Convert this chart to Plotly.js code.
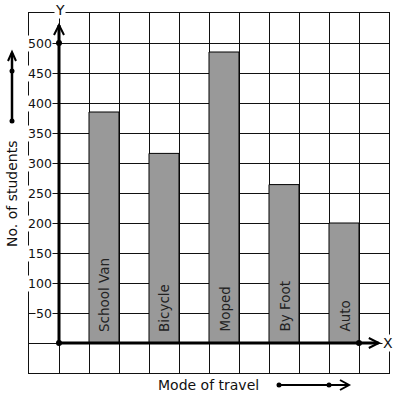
<!DOCTYPE html>
<html>
<head>
<meta charset="utf-8">
<script src="https://cdn.plot.ly/plotly-3.0.1.min.js"></script>
<style>html,body{margin:0;padding:0;background:#fff;}#chart{width:397px;height:399px;}</style>
</head>
<body>
<div id="chart"></div>
<script>
// Data
const categories = ["School Van", "Bicycle", "Moped", "By Foot", "Auto"];
const students = [385, 316, 485, 264, 200];
const yTickValues = [50, 100, 150, 200, 250, 300, 350, 400, 450, 500];
const yTickLabels = ["50", "100", "150", "200", "250", "300", "350", "400", "450", "500"];
const xAxisTitle = "Mode of travel";
const yAxisTitle = "No. of students";

// Layout geometry
const L = 29, T = 13, W = 360, H = 360;
const FONT = "DejaVu Sans, sans-serif";
const px = x => (x - L) / W;          // pixel -> paper x
const py = y => (T + H - y) / H;      // pixel -> paper y
const DX = 1 / 30, DY = 50 / 30;      // data units per pixel

const xPos = categories.map((c, i) => 1.5 + 2 * i);

const bars = {
  type: "bar",
  x: xPos,
  y: students,
  width: 1,
  marker: { color: "#999999", line: { color: "#000", width: 1 } },
  hoverinfo: "skip"
};

const dots = {
  type: "scatter",
  mode: "markers",
  x: [0, 0, 10],
  y: [0, 500, 0],
  marker: { color: "#000", size: 6 },
  cliponaxis: false,
  hoverinfo: "skip"
};

const annotations = [];
yTickValues.forEach((v, i) => {
  annotations.push({
    x: -0.2, y: v, xref: "x", yref: "y", text: yTickLabels[i],
    showarrow: false, xanchor: "right", yanchor: "middle",
    bgcolor: "#fff", borderpad: 0,
    font: { family: FONT, size: 12.5, color: "#111" }
  });
});
categories.forEach((c, i) => {
  annotations.push({
    x: xPos[i], y: 0, xref: "x", yref: "y", text: c,
    showarrow: false, textangle: -90, xanchor: "center", yanchor: "bottom",
    yshift: 9,
    font: { family: FONT, size: 13.5, color: "#222" }
  });
});
annotations.push({
  x: px(60), y: py(10), xref: "paper", yref: "paper", text: "Y", showarrow: false,
  xanchor: "center", yanchor: "middle", bgcolor: "#fff", borderpad: 0,
  font: { family: FONT, size: 14, color: "#111" }
});
annotations.push({
  x: 10.97, y: 0, xref: "x", yref: "y", text: "X", showarrow: false,
  xanchor: "center", yanchor: "middle", bgcolor: "#fff", borderpad: 0,
  font: { family: FONT, size: 14, color: "#111" }
});
annotations.push({
  x: px(12), y: py(194), xref: "paper", yref: "paper", text: yAxisTitle,
  showarrow: false, textangle: -90, xanchor: "center", yanchor: "middle",
  font: { family: FONT, size: 14, color: "#111" }
});
annotations.push({
  x: px(208), y: py(385), xref: "paper", yref: "paper", text: xAxisTitle,
  showarrow: false, xanchor: "center", yanchor: "middle",
  font: { family: FONT, size: 14, color: "#111" }
});

const axisLine = { color: "#000", width: 3 };
const arrowLine = { color: "#000", width: 2 };
const shapes = [
  // y axis
  { type: "line", xref: "x", yref: "y", x0: 0, y0: 0, x1: 0, y1: 530, line: axisLine, layer: "above" },
  { type: "path", xref: "x", yref: "y",
    path: `M ${-5*DX} ${530-10*DY} L 0 530 L ${5*DX} ${530-10*DY}`, line: arrowLine, layer: "above" },
  // x axis
  { type: "line", xref: "x", yref: "y", x0: 0, y0: 0, x1: 10.65, y1: 0, line: axisLine, layer: "above" },
  { type: "path", xref: "x", yref: "y",
    path: `M ${10.66-10*DX} ${5*DY} L 10.66 0 L ${10.66-10*DX} ${-5*DY}`, line: arrowLine, layer: "above" },
  // left decorative arrow
  { type: "line", xref: "paper", yref: "paper", x0: px(12), y0: py(121), x1: px(12), y1: py(53), line: { color: "#000", width: 2.5 } },
  { type: "path", xref: "paper", yref: "paper",
    path: `M ${px(8)} ${py(61)} L ${px(12)} ${py(52)} L ${px(16)} ${py(61)}`, line: arrowLine },
  { type: "circle", xref: "paper", yref: "paper", x0: px(9.5), x1: px(14.5), y0: py(118.5), y1: py(123.5), fillcolor: "#000", line: { width: 0 } },
  { type: "circle", xref: "paper", yref: "paper", x0: px(9.5), x1: px(14.5), y0: py(68.5), y1: py(73.5), fillcolor: "#000", line: { width: 0 } },
  // bottom decorative arrow
  { type: "line", xref: "paper", yref: "paper", x0: px(279), y0: py(385), x1: px(348), y1: py(385), line: { color: "#000", width: 2 } },
  { type: "path", xref: "paper", yref: "paper",
    path: `M ${px(340)} ${py(380)} L ${px(349)} ${py(385)} L ${px(340)} ${py(390)}`, line: arrowLine },
  { type: "circle", xref: "paper", yref: "paper", x0: px(276.5), x1: px(281.5), y0: py(382.5), y1: py(387.5), fillcolor: "#000", line: { width: 0 } },
  { type: "circle", xref: "paper", yref: "paper", x0: px(326.5), x1: px(331.5), y0: py(382.5), y1: py(387.5), fillcolor: "#000", line: { width: 0 } }
];

const layout = {
  width: 397, height: 399,
  margin: { l: L, r: 397 - L - W, t: T, b: 399 - T - H, pad: 0 },
  paper_bgcolor: "#fff", plot_bgcolor: "#fff",
  showlegend: false,
  xaxis: {
    range: [-1, 11], dtick: 1, tick0: 0, showgrid: true, gridcolor: "#111", gridwidth: 1,
    zeroline: false, showticklabels: false, ticks: "",
    showline: true, mirror: true, linecolor: "#111", linewidth: 1, fixedrange: true
  },
  yaxis: {
    range: [-50, 550], dtick: 50, tick0: 0, showgrid: true, gridcolor: "#111", gridwidth: 1,
    zeroline: false, showticklabels: false, ticks: "",
    showline: true, mirror: true, linecolor: "#111", linewidth: 1, fixedrange: true
  },
  annotations: annotations,
  shapes: shapes,
  font: { family: FONT }
};

Plotly.newPlot("chart", [bars, dots], layout, { staticPlot: true, displayModeBar: false });
</script>
</body>
</html>
